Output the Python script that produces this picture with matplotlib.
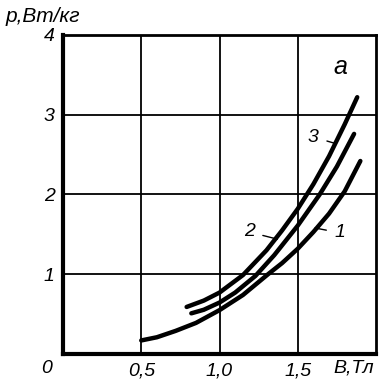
import matplotlib
matplotlib.use("Agg")
import matplotlib.pyplot as plt

# Data
B1 = [0.50, 0.60, 0.72, 0.85, 1.00, 1.15, 1.31, 1.40, 1.50, 1.60, 1.70, 1.80, 1.90]
p1 = [0.17, 0.21, 0.29, 0.39, 0.55, 0.74, 1.00, 1.14, 1.32, 1.53, 1.76, 2.04, 2.42]
B2 = [0.82, 0.90, 1.00, 1.10, 1.23, 1.35, 1.50, 1.64, 1.75, 1.86]
p2 = [0.51, 0.555, 0.645, 0.77, 0.98, 1.24, 1.61, 2.00, 2.35, 2.76]
B3 = [0.79, 0.90, 1.00, 1.15, 1.30, 1.40, 1.50, 1.60, 1.70, 1.80, 1.88]
p3 = [0.59, 0.67, 0.77, 0.99, 1.30, 1.55, 1.82, 2.13, 2.48, 2.88, 3.22]
xticks = [0.5, 1.0, 1.5]
xticklabels = ["0,5", "1,0", "1,5"]
yticks = [1, 2, 3, 4]
yticklabels = ["1", "2", "3", "4"]

FONT = ["Liberation Sans Narrow", "Liberation Sans", "DejaVu Sans"]
plt.rcParams["font.family"] = FONT

fig = plt.figure(figsize=(3.87, 3.85), dpi=100)
ax = fig.add_axes([63 / 387, 31 / 385, 313 / 387, 319 / 385])
ax.set_xlim(0, 2.0)
ax.set_ylim(0, 4.0)

for B, p in [(B1, p1), (B2, p2), (B3, p3)]:
    ax.plot(B, p, color="black", lw=3.2, solid_capstyle="round",
            solid_joinstyle="round", zorder=3)

ax.grid(True, color="black", lw=1.3)
ax.set_xticks(xticks)
ax.set_xticklabels(xticklabels, fontstyle="italic", fontsize=14)
ax.set_yticks(yticks)
ax.set_yticklabels(yticklabels, fontstyle="italic", fontsize=14)
ax.tick_params(length=0, pad=6)

for side, lw in [("left", 3.0), ("bottom", 3.0), ("top", 2.0), ("right", 2.0)]:
    ax.spines[side].set_linewidth(lw)
    ax.spines[side].set_color("black")

ax.text(-0.07, -0.07, "0", ha="right", va="top", fontstyle="italic", fontsize=14)
ax.text(1.86, -0.07, "В,Тл", ha="center", va="top", fontstyle="italic", fontsize=14)
fig.text(43 / 387, 1 - 16 / 385, "p,Вт/кг", ha="center", va="center",
         fontstyle="italic", fontsize=15)
ax.text(1.77, 3.6, "а", ha="center", va="center", fontstyle="italic", fontsize=18)

# curve labels with leaders
ax.annotate("3", xy=(1.74, 2.64), xytext=(1.60, 2.72), fontsize=14, fontstyle="italic",
            ha="center", va="center",
            arrowprops=dict(arrowstyle="-", color="black", lw=1.0, shrinkA=4, shrinkB=0))
ax.annotate("2", xy=(1.37, 1.44), xytext=(1.19, 1.53), fontsize=14, fontstyle="italic",
            ha="center", va="center",
            arrowprops=dict(arrowstyle="-", color="black", lw=1.0, shrinkA=4, shrinkB=0))
ax.annotate("1", xy=(1.61, 1.58), xytext=(1.77, 1.52), fontsize=14, fontstyle="italic",
            ha="center", va="center",
            arrowprops=dict(arrowstyle="-", color="black", lw=1.0, shrinkA=4, shrinkB=0))

fig.savefig("out.png", dpi=100)
